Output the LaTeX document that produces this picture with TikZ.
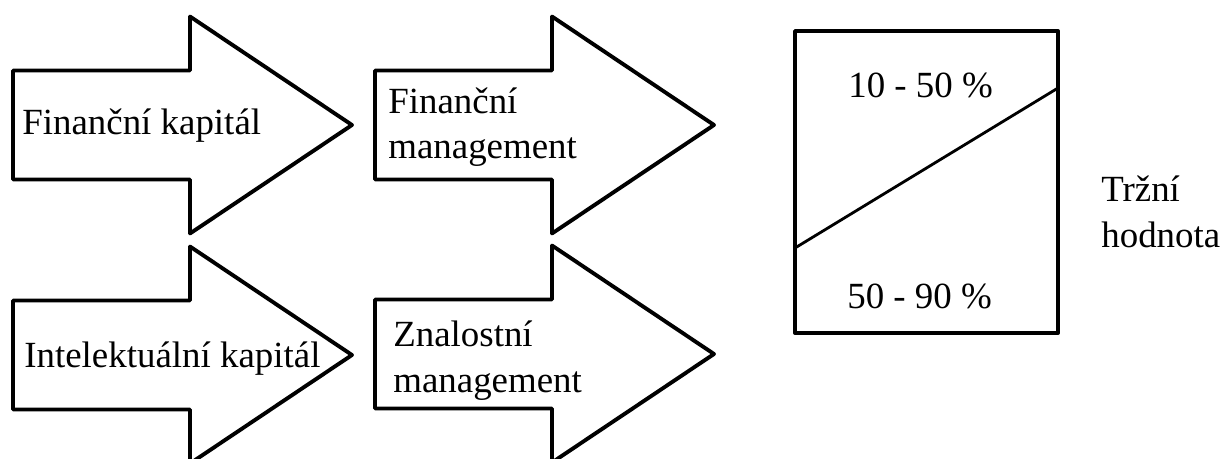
\documentclass[tikz,border=0pt]{standalone}
\usepackage{fontspec}
\setmainfont{Liberation Serif}
\begin{document}
\begin{tikzpicture}[x=0.02cm, y=-0.02cm,
	outline/.style={line width=2.2pt, line join=round},
	lbl/.style={anchor=base west, inner sep=0pt, align=left,
		font=\fontsize{21}{26}\selectfont}]
	\useasboundingbox (0,0) rectangle (1223,459);
	%block arrows
	\foreach \x/\y in {13/125, 13/355, 375/125, 375/354}
	{
		\draw[outline] (\x,\y) ++(0,-54.5) -- ++(177,0) -- ++(0,-54) -- ++(162,108.5)
			-- ++(-162,108.5) -- ++(0,-54) -- ++(-177,0) -- cycle;
	}
	\node[lbl] (fk) at (22,135) {Finanční kapitál};
	\node[lbl] (ik) at (24,367) {Intelektuální kapitál};
	% base of a two line node is its last line
	\node[lbl] (fm) at (388,159) {Finanční\\management};
	\node[lbl] (zm) at (393,392) {Znalostní\\management};
	
	%market value
	\coordinate (boxtl) at (795,31);
	\coordinate (boxbr) at (1058,333);
	\coordinate (cutl) at (795,248);
	\coordinate (cutr) at (1058,88);
	\draw[outline] (boxtl) rectangle (boxbr);
	\draw[line width=1.6pt] (cutl) -- (cutr);
	\node[lbl] (hi) at (848,98) {10 - 50 \%};
	\node[lbl] (lo) at (847,308) {50 - 90 \%};
	\node[lbl] (th) at (1101,247) {Tržní\\hodnota};
\end{tikzpicture}
\end{document}
